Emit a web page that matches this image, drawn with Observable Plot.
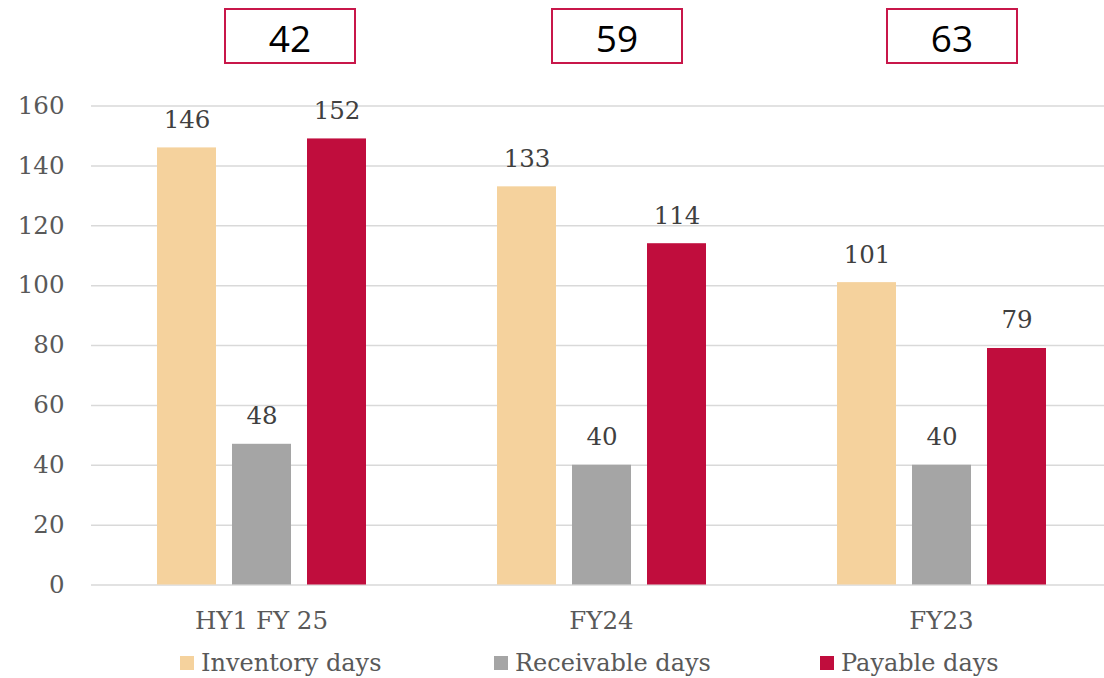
<!DOCTYPE html>
<html>
<head>
<meta charset="utf-8">
<script src="https://cdn.jsdelivr.net/npm/d3@7"></script>
<script src="https://cdn.jsdelivr.net/npm/@observablehq/plot@0.6"></script>
<style>
  html, body { margin: 0; padding: 0; background: #fff; }
  #wrap { position: relative; width: 1104px; height: 678px; overflow: hidden; }
  #boxes .box { position: absolute; top: 8px; width: 128px; height: 50px; border: 2.5px solid #C8174A;
    font-family: "Open Sans", "Noto Sans", sans-serif; font-size: 37px; color: #000;
    display: flex; align-items: center; justify-content: center; line-height: 1; padding-top: 2px; box-sizing: content-box; }
  #legend { position: absolute; left: 0; top: 647px; width: 1104px; height: 32px; }
  #legend .item { position: absolute; top: 0; display: flex; align-items: center; height: 32px;
    font-family: "DejaVu Serif", serif; font-size: 24px; color: #595959; }
  #legend .sw { width: 14px; height: 14px; margin-right: 7px; }
</style>
</head>
<body>
<div id="wrap">
  <div id="chart"></div>
  <div id="boxes"></div>
  <div id="legend"></div>
</div>
<script>
// ---- data ----
const groups = ["HY1 FY 25", "FY24", "FY23"];
const series = ["Inventory days", "Receivable days", "Payable days"];
// bar heights as drawn
const inventory = [146, 133, 101];
const receivable = [47, 40, 40];
const payable = [149, 114, 79];
// data labels as printed
const inventoryLabels = [146, 133, 101];
const receivableLabels = [48, 40, 40];
const payableLabels = [152, 114, 79];
// boxed values above each group
const cycleDays = [42, 59, 63];
const yTicks = [0, 20, 40, 60, 80, 100, 120, 140, 160];
const colors = ["#F5D29D", "#A5A5A5", "#C00D3D"];

const values = [inventory, receivable, payable];
const labels = [inventoryLabels, receivableLabels, payableLabels];
const data = groups.flatMap((g, i) => series.map((s, j) => ({
  group: g, series: s, value: values[j][i], label: labels[j][i]
})));

const chart = Plot.plot({
  width: 1104,
  height: 640,
  marginLeft: 90,
  marginRight: -7,
  marginTop: 105.5,
  marginBottom: 55.5,
  style: { fontFamily: "DejaVu Serif, serif", fontSize: "24.5px", color: "#595959", background: "white" },
  fx: { domain: groups, padding: 0, label: null, axis: "bottom", tickSize: 0, tickPadding: 27 },
  x: { domain: series, paddingInner: 0.216, paddingOuter: 0.85, axis: null },
  y: { domain: [0, 160], ticks: yTicks, tickFormat: d => String(d), label: null, tickSize: 0, tickPadding: 27 },
  color: { domain: series, range: colors },
  marks: [
    Plot.ruleY(yTicks, { stroke: "#D9D9D9", strokeWidth: 1.5 }),
    Plot.barY(data, { fx: "group", x: "series", y: "value", fill: "series" }),
    Plot.text(data, { fx: "group", x: "series", y: "value", text: d => String(d.label),
      lineAnchor: "bottom", dy: -20, fill: "#404040", fontSize: 24.5 })
  ]
});
document.getElementById("chart").appendChild(chart);

// boxed annotations above groups
const boxLefts = [224, 551, 886];
const boxes = document.getElementById("boxes");
cycleDays.forEach((v, i) => {
  const b = document.createElement("div");
  b.className = "box";
  b.style.left = boxLefts[i] + "px";
  b.textContent = String(v);
  boxes.appendChild(b);
});

// legend
const legendLefts = [180, 494, 820];
const legend = document.getElementById("legend");
series.forEach((s, i) => {
  const it = document.createElement("div");
  it.className = "item";
  it.style.left = legendLefts[i] + "px";
  const sw = document.createElement("span");
  sw.className = "sw";
  sw.style.background = colors[i];
  const tx = document.createElement("span");
  tx.textContent = s;
  it.appendChild(sw);
  it.appendChild(tx);
  legend.appendChild(it);
});
</script>
</body>
</html>
